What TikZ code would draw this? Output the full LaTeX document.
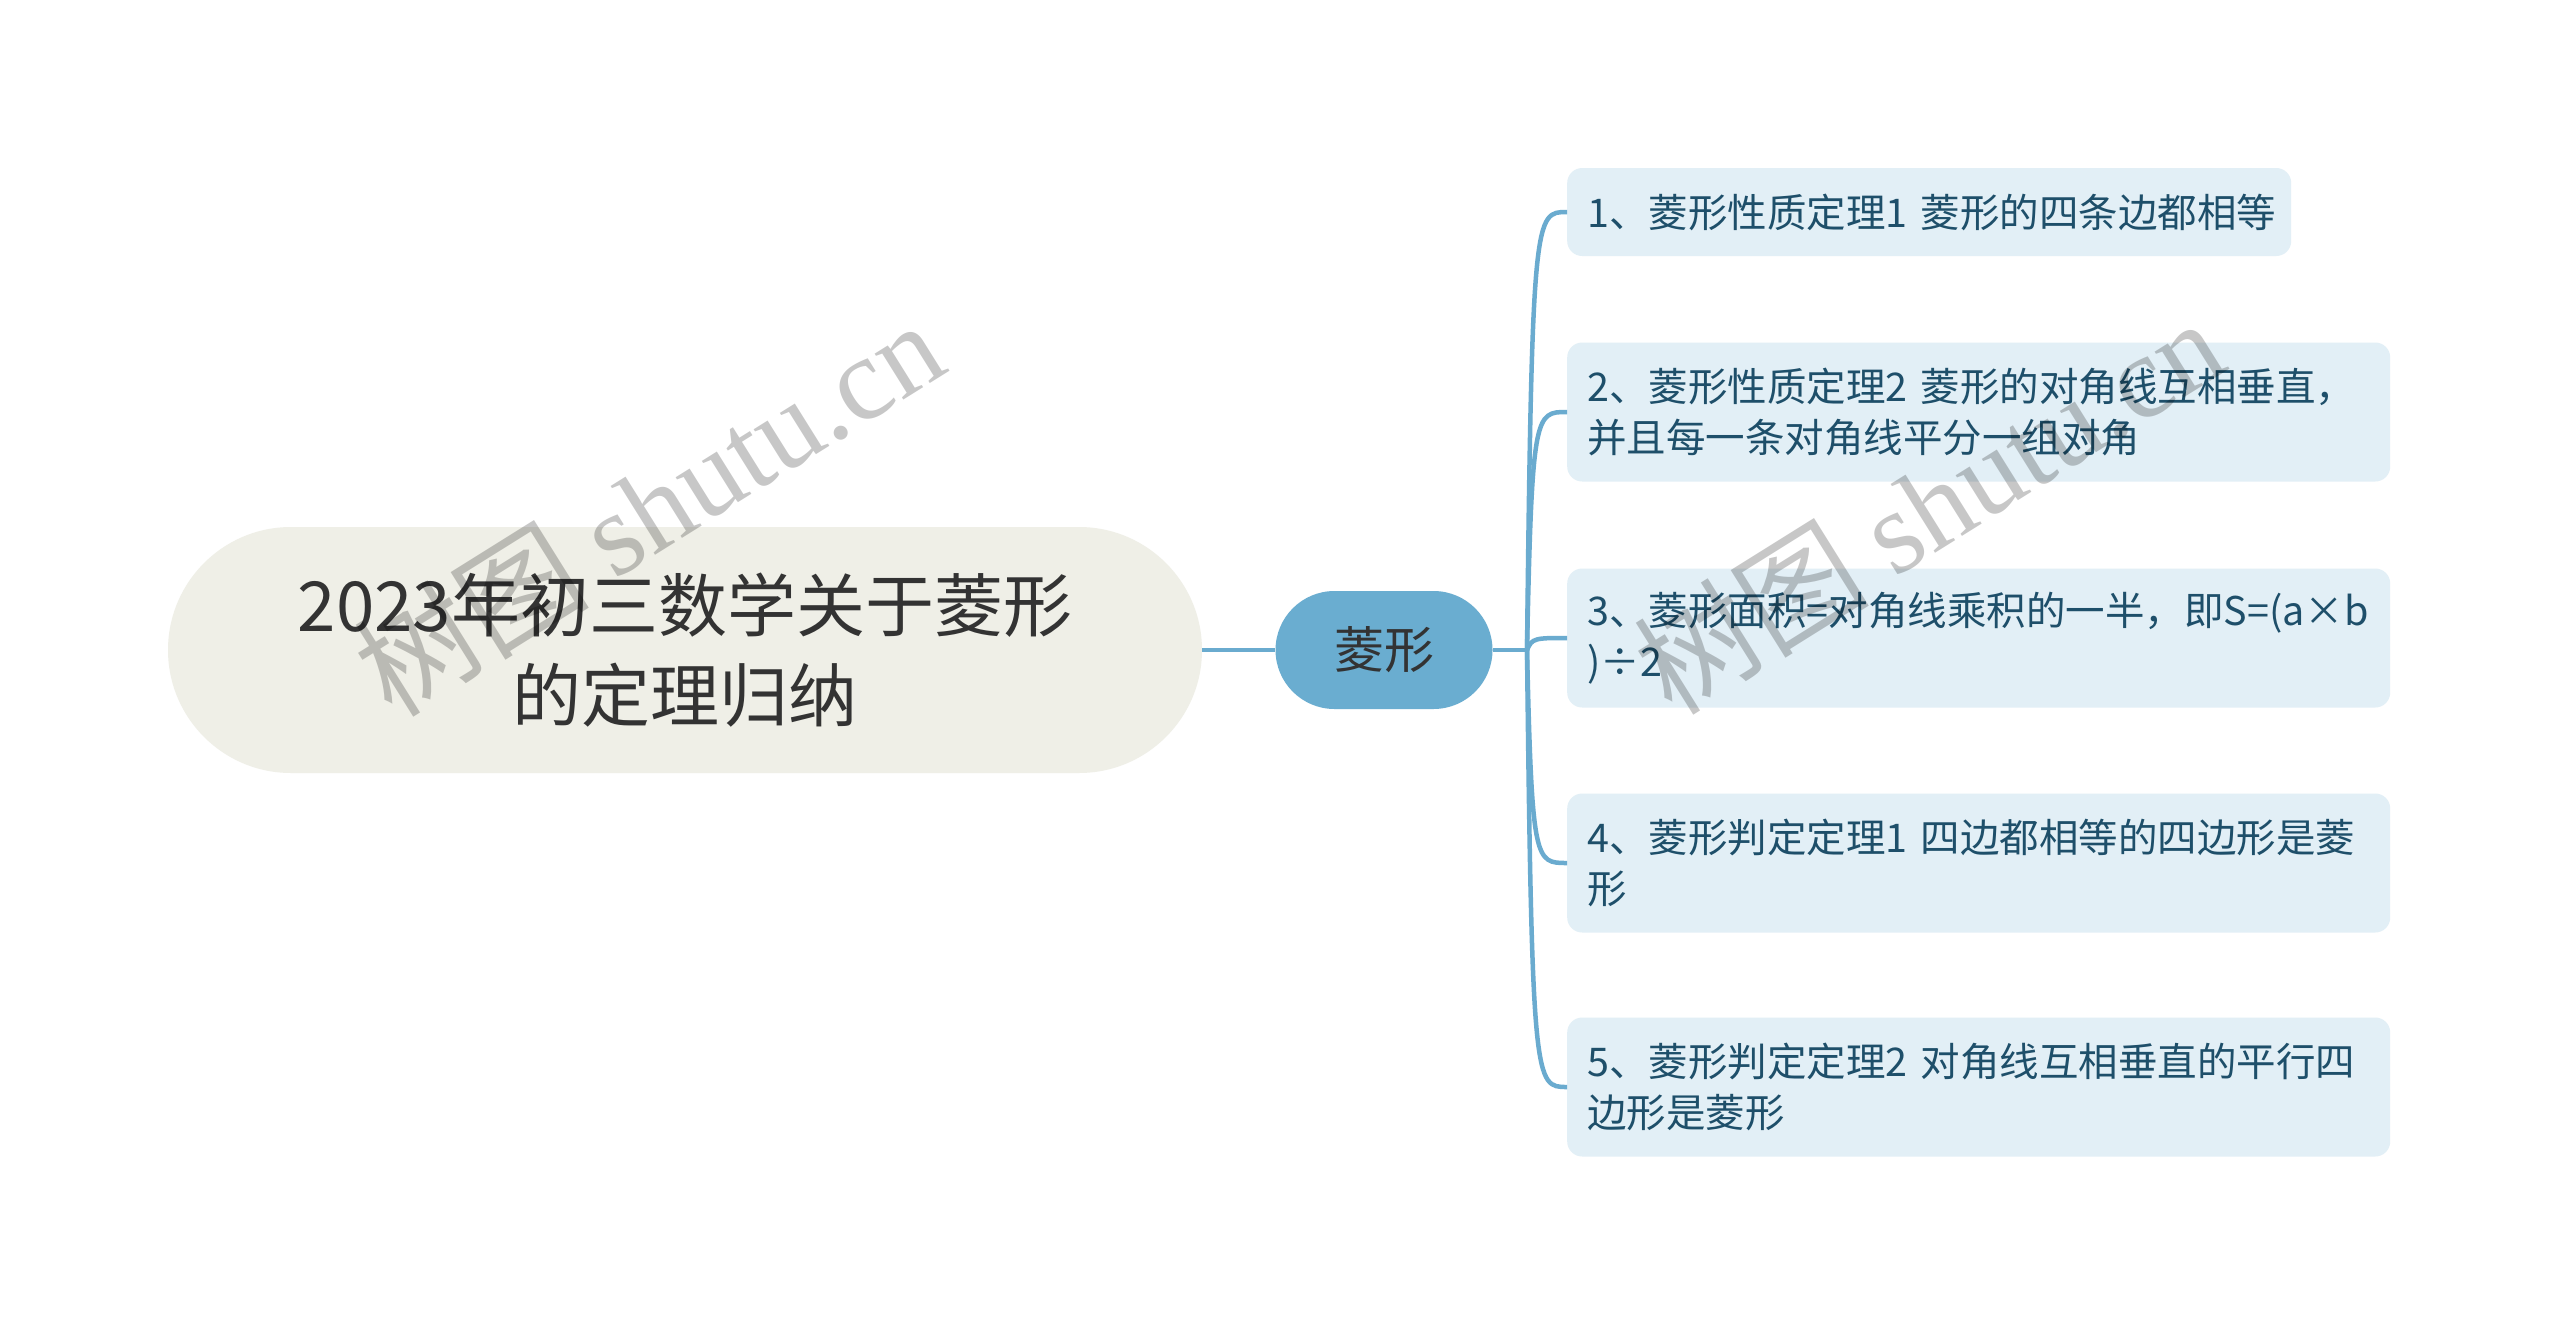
\documentclass[tikz,border=0pt]{standalone}
\usepackage{fontspec}
\setmainfont{Noto Sans CJK SC}
\newfontfamily\cjkfont{Noto Sans CJK SC}
\newfontfamily\wmserif{Liberation Serif}
\usetikzlibrary{calc}
\definecolor{rootfill}{HTML}{EFEFE7}
\definecolor{mainfill}{HTML}{6AADD0}
\definecolor{linec}{HTML}{6AABCF}
\definecolor{kidfill}{HTML}{E2EFF6}
\definecolor{kidtext}{HTML}{1E4F6A}
\definecolor{roottext}{HTML}{333333}
\begin{document}
\begin{tikzpicture}[x=1pt,y=-1pt,
  rootbox/.style={fill=rootfill, rounded corners=123pt, minimum width=1034pt, minimum height=246pt,
    align=center, text=roottext, font=\fontsize{69}{90}\selectfont, inner sep=0pt},
  mainbox/.style={fill=mainfill, rounded corners=59pt, minimum width=217pt, minimum height=118pt,
    text=roottext, font=\fontsize{50}{60}\selectfont, inner sep=0pt},
  kidbox/.style={fill=kidfill, rounded corners=15pt, text=kidtext, font=\fontsize{39.5}{50.6}\selectfont,
    align=left, anchor=west, inner xsep=20pt, inner ysep=0pt},
  conn/.style={draw=linec, line width=4.5pt},
  wm/.style={text=black, text opacity=0.22, font=\fontsize{118}{118}\selectfont, inner sep=0pt}
]
\fill[white] (0,0) rectangle (2560,1325);
\useasboundingbox (0,0) rectangle (2560,1325);

\node[rootbox] (root) at (685,650) {2023年初三数学关于菱形\\的定理归纳};
\node[mainbox] (main) at (1384,650) {菱形};
\coordinate (hub) at (1527,650);

\node[kidbox, text width=684pt, minimum height=88pt] (k1) at (1567,212) {1、菱形性质定理1~菱形的四条边都相等};
\node[kidbox, text width=783pt, minimum height=139pt] (k2) at (1567,412) {2、菱形性质定理2~菱形的对角线互相垂直，\\并且每一条对角线平分一组对角};
\node[kidbox, text width=783pt, minimum height=139pt] (k3) at (1567,638) {3、菱形面积=对角线乘积的一半，即S=(a×b\\)÷2};
\node[kidbox, text width=783pt, minimum height=139pt] (k4) at (1567,863) {4、菱形判定定理1~四边都相等的四边形是菱\\形};
\node[kidbox, text width=783pt, minimum height=139pt] (k5) at (1567,1087) {5、菱形判定定理2~对角线互相垂直的平行四\\边形是菱形};

\draw[conn] (root.east) -- (main.west);
\draw[conn] (main.east) -- (hub);
\foreach \k in {k1,k2,k3,k4,k5}{
  \draw[conn] (hub) .. controls ($(hub |- \k.west)+(5,0)$) and ($(hub |- \k.west)+(8,0)$) .. (\k.west);
}

\node[wm, rotate=32] (wm1) at (648,507) {{\cjkfont 树图} {\wmserif shutu.cn}};
\node[wm, rotate=32] (wm2) at (1928,505) {{\cjkfont 树图} {\wmserif shutu.cn}};
\end{tikzpicture}
\end{document}
